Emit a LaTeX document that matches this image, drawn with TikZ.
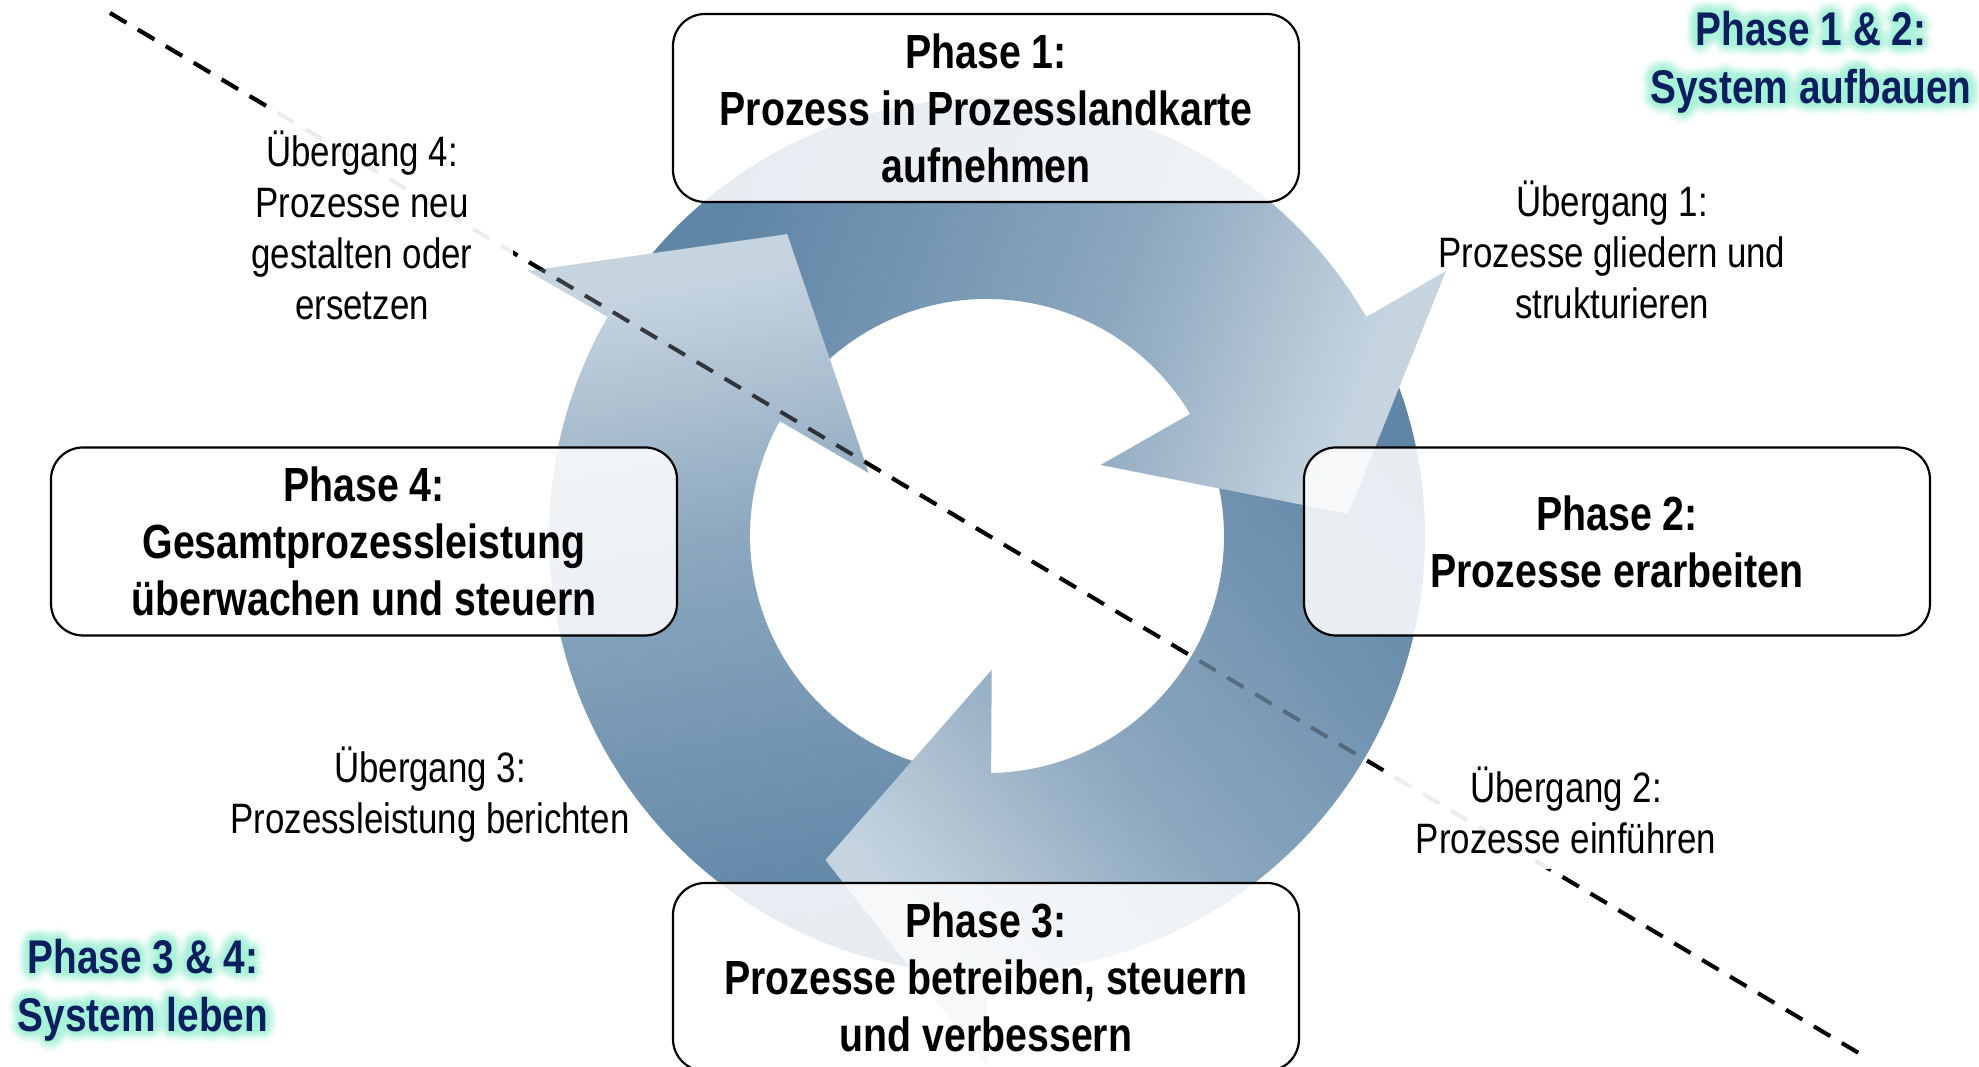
\documentclass[tikz,border=0pt]{standalone}
\usepackage{fontspec}
\setmainfont{Liberation Sans}[FakeStretch=0.82]
\usetikzlibrary{calc}

\definecolor{ardark}{HTML}{5F86A7}
\definecolor{armid}{HTML}{8CA7BE}
\definecolor{arlight}{HTML}{C6D4E0}
\definecolor{navy}{HTML}{0B1F5E}
\definecolor{glowc}{HTML}{A6F3DA}

% gradient of each ring arrow: dark at the tail, light at the head
\pgfdeclarehorizontalshading{arrowfill}{100bp}{%
  color(0bp)=(ardark); color(34bp)=(ardark); color(52bp)=(armid);
  color(64bp)=(arlight); color(100bp)=(arlight)}

\tikzset{
  phasebox/.style={draw=black, line width=2.2pt, rounded corners=32pt,
    fill=white, fill opacity=0.85, text opacity=1,
    minimum width=626pt, minimum height=188pt, align=center, inner sep=0pt,
    font=\fontsize{47.9}{57}\selectfont\bfseries},
  steplbl/.style={align=center, inner sep=0pt,
    font=\fontsize{42.5}{51}\selectfont},
  veil/.style={fill=white, fill opacity=0.93, text opacity=1},
  glowlbl/.style={align=center, inner sep=0pt,
    font=\fontsize{47.3}{58}\selectfont\bfseries},
  divider/.style={line width=4pt, dash pattern=on 19pt off 13.5pt},
}

% body of a ring arrow whose head starts at angle #1; #2 = shading angle
\newcommand\ringbody[2]{%
  \begin{scope}
    \clip ($(ctr)+(#1+120:438)$) arc[start angle=#1+120, end angle=#1, radius=438]
      -- ($(ctr)+(#1+1:237)$) arc[start angle=#1+1, end angle=#1+120, radius=237]
      -- cycle;
    \shade[shading=arrowfill, shading angle=#2] (ctr) circle[radius=545];
  \end{scope}}

% head of the same arrow
\newcommand\ringhead[2]{%
  \begin{scope}
    \clip ($(ctr)+(#1+1.5:437)$) -- ($(ctr)+(#1:438)$) -- ($(ctr)+(#1:530)$)
      -- ($(ctr)+(#1-26.5:362)$) -- ($(ctr)+(#1+2:134)$) -- ($(ctr)+(#1+1:237)$)
      -- ($(ctr)+(#1+2.5:240)$) -- cycle;
    \shade[shading=arrowfill, shading angle=#2] (ctr) circle[radius=545];
  \end{scope}}

% bold label with a soft halo
\newcommand\glowlabel[3]{%
  \foreach \rad/\op [count=\i] in {12/0.08, 9/0.12, 6/0.18, 3/0.28} {
    \foreach \ang [count=\j] in {0,22.5,...,337.5} {
      \node[glowlbl, text=glowc, text opacity=\op] (#1-g\i-\j) at ($(#2)+(\ang:\rad)$) {#3};
    }
  }
  \node[glowlbl, text=navy] (#1) at (#2) {#3};
}

\begin{document}
\begin{tikzpicture}[x=1pt, y=1pt]
  \fill[white] (0,0) rectangle (1979,1067);
  \useasboundingbox (0,0) rectangle (1979,1067);

  \coordinate (ctr) at (987,531);
  \coordinate (dstart) at (110,1054);
  \coordinate (dend) at (1867,9);

  % dividing line between the two halves of the cycle
  \draw[divider] (dstart) -- (dend);

  % three ring arrows
  \ringbody{150}{100}
  \ringbody{30}{-20}
  \ringbody{270}{220}
  \ringhead{150}{100}
  \ringhead{30}{-20}
  \ringhead{270}{220}

  % dividing line showing through the arrows
  \begin{scope}
    \clip (0,0) rectangle (987,1067);
    \draw[divider, opacity=0.72] (dstart) -- (dend);
  \end{scope}
  \begin{scope}
    \clip (987,0) rectangle (1979,1067);
    \draw[divider, opacity=0.3] (dstart) -- (dend);
  \end{scope}

  % transitions
  \node[steplbl] (u1) at (1612,817) {Übergang 1:\\Prozesse gliedern und\\strukturieren};
  \node[steplbl, veil, minimum width=352pt, minimum height=118pt] (u2) at (1566,257)
    {Übergang 2:\\Prozesse einführen};
  \node[steplbl] (u3) at (430,272) {Übergang 3:\\Prozessleistung berichten};
  \node[steplbl, veil, minimum width=302pt, minimum height=227pt] (u4) at (362,842)
    {Übergang 4:\\Prozesse neu\\gestalten oder\\ersetzen};

  % phases
  \node[phasebox] (p1) at (986,959) {Phase 1:\\Prozess in Prozesslandkarte\\aufnehmen};
  \node[phasebox] (p2) at (1617,525.5) {Phase 2:\\Prozesse erarbeiten};
  \node[phasebox] (p3) at (986,90) {Phase 3:\\Prozesse betreiben, steuern\\und verbessern};
  \node[phasebox] (p4) at (364,525.5) {Phase 4:\\Gesamtprozessleistung\\überwachen und steuern};

  % groups of phases
  \glowlabel{s12}{1811,1005}{Phase 1 \& 2:\\System aufbauen}
  \glowlabel{s34}{143,77}{Phase 3 \& 4:\\System leben}
\end{tikzpicture}
\end{document}
